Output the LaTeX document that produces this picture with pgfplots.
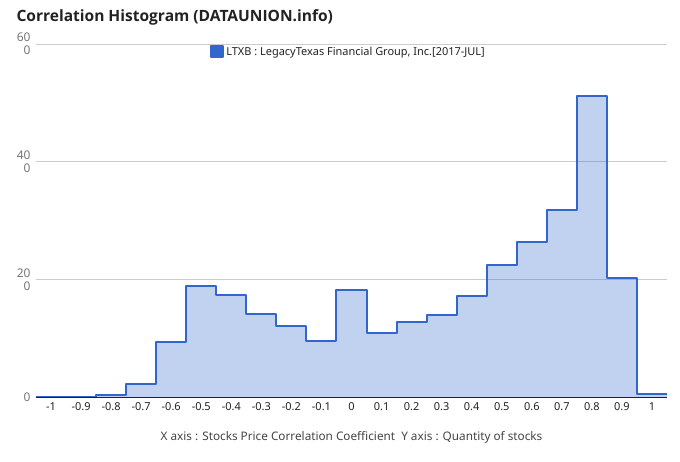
\documentclass[border=0pt]{standalone}
\usepackage{fontspec}
\setmainfont{Noto Sans}
\newfontfamily\titlefont{Open Sans}
\usepackage{pgfplots}
\pgfplotsset{compat=1.18}

\definecolor{lineblue}{RGB}{51,102,204}
\definecolor{gridgray}{RGB}{204,204,204}
\definecolor{darktext}{RGB}{34,34,34}
\definecolor{midtext}{RGB}{68,68,68}
\definecolor{ytext}{RGB}{117,117,117}

% left edge of each 0.1 bin, count in that bin (last row closes the final step)
\pgfplotstableread{
x y
-1.05 0
-0.95 0
-0.85 4
-0.75 22
-0.65 93
-0.55 189
-0.45 173
-0.35 141
-0.25 120
-0.15 95
-0.05 182
0.05 109
0.15 128
0.25 139
0.35 171
0.45 224
0.55 263
0.65 317
0.75 511
0.85 203
0.95 5
1.05 5
}\histdata

\begin{document}
\begin{tikzpicture}

\useasboundingbox (-36bp,-65bp) rectangle (644bp,397bp);

\begin{axis}[
at={(0,0)}, anchor=south west,
scale only axis,
width=631bp, height=353bp,
xmin=-1.05, xmax=1.05,
ymin=0, ymax=600,
axis x line=bottom,
axis y line=left,
x axis line style={darktext, -, line width=0.8bp},
y axis line style={draw=none},
major tick length=0pt,
ymajorgrids,
grid style={gridgray, line width=0.8bp},
xtick={-1,-0.9,-0.8,-0.7,-0.6,-0.5,-0.4,-0.3,-0.2,-0.1,0,0.1,0.2,0.3,0.4,0.5,0.6,0.7,0.8,0.9,1},
xticklabels={-1,-0.9,-0.8,-0.7,-0.6,-0.5,-0.4,-0.3,-0.2,-0.1,0,0.1,0.2,0.3,0.4,0.5,0.6,0.7,0.8,0.9,1},
xticklabel style={font=\fontsize{11}{13}\selectfont, text=darktext, yshift=-2bp},
ytick={0,200,400,600},
yticklabels={0,{20\\0},{40\\0},{60\\0}},
yticklabel style={font=\fontsize{12}{13}\selectfont, text=ytext, align=right, xshift=-2bp},
title={Correlation Histogram (DATAUNION.info)},
title style={at={(axis description cs:0,1)}, anchor=west, xshift=-23bp, yshift=21bp,
  font=\titlefont\fontsize{15.6}{18}\selectfont\bfseries, text=darktext},
xlabel={X axis : Stocks Price Correlation Coefficient\ \ Y axis : Quantity of stocks},
xlabel style={at={(axis description cs:0.5,0)}, anchor=center, yshift=-40bp,
  font=\fontsize{11.8}{14}\selectfont, text=midtext},
legend style={at={(axis description cs:0.276,0.998)}, anchor=north west,
  draw=none, fill=none, font=\fontsize{11}{12}\selectfont, text=darktext,
  inner sep=0pt},
legend cell align=left,
legend image code/.code={\fill[lineblue] (0bp,-5.5bp) rectangle (12bp,5.5bp);},
]
\addplot[const plot mark left, draw=none, fill=lineblue, fill opacity=0.3, forget plot]
  table[x=x, y=y] {\histdata} \closedcycle;
\addplot[const plot mark left, draw=lineblue, line width=2bp, line join=round]
  table[x=x, y=y] {\histdata};
\addlegendentry{LTXB : LegacyTexas Financial Group, Inc.[2017-JUL]}
\end{axis}

\end{tikzpicture}
\end{document}
